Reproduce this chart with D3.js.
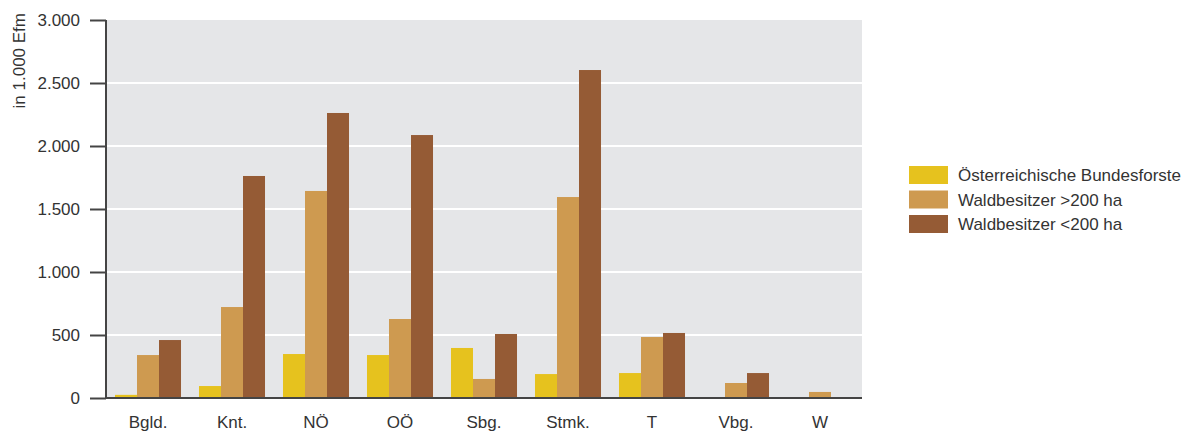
<!DOCTYPE html>
<html>
<head>
<meta charset="utf-8">
<script src="https://cdn.jsdelivr.net/npm/d3@7"></script>
<style>
  html, body { margin: 0; padding: 0; background: #fff; }
  svg { display: block; font-family: "Liberation Sans", Arial, Helvetica, sans-serif; }
</style>
</head>
<body>
<svg id="chart" width="1191" height="431"></svg>
<script>
// Bundesländer
const categories = ["Bgld.", "Knt.", "NÖ", "OÖ", "Sbg.", "Stmk.", "T", "Vbg.", "W"];
// Series (in 1.000 Efm)
const seriesNames = ["Österreichische Bundesforste", "Waldbesitzer >200 ha", "Waldbesitzer <200 ha"];
const bundesforste = [25, 95, 349, 341, 397, 190, 198, 0, 5];
const ueber200 = [341, 722, 1643, 627, 151, 1595, 484, 119, 48];
const unter200 = [460, 1762, 2262, 2087, 508, 2603, 516, 198, 3];
const yTicks = [0, 500, 1000, 1500, 2000, 2500, 3000];
const colors = ["#e6c21e", "#ce9a50", "#955b35"];

const seriesValues = [bundesforste, ueber200, unter200];
const rows = categories.map((c, i) => ({
  cat: c,
  vals: seriesValues.map((s, k) => ({ key: k, value: s[i] }))
}));

const FS = 17;
const svg = d3.select("#chart");
const margin = { left: 106, top: 20, right: 862, bottom: 398 };

const x = d3.scaleBand().domain(categories).range([margin.left, margin.right]).paddingInner(0.214).paddingOuter(0.107);
const xs = d3.scaleBand().domain([0, 1, 2]).range([0, x.bandwidth()]);
const y = d3.scaleLinear().domain([0, 3000]).range([margin.bottom, margin.top]);

// plot background
svg.append("rect")
  .attr("x", margin.left).attr("y", margin.top)
  .attr("width", margin.right - margin.left).attr("height", margin.bottom - margin.top)
  .attr("fill", "#e5e6e8");

// white gridlines
svg.append("g").selectAll("line").data(yTicks.filter(t => t > 0 && t < 3000)).join("line")
  .attr("x1", margin.left).attr("x2", margin.right)
  .attr("y1", d => y(d)).attr("y2", d => y(d))
  .attr("stroke", "#fff").attr("stroke-width", 2);

// bars
svg.append("g").selectAll("g").data(rows).join("g")
  .attr("transform", d => `translate(${x(d.cat)},0)`)
  .selectAll("rect").data(d => d.vals).join("rect")
  .attr("x", d => xs(d.key))
  .attr("width", xs.bandwidth())
  .attr("y", d => y(d.value))
  .attr("height", d => y(0) - y(d.value))
  .attr("fill", d => colors[d.key]);

// y axis
const yAxis = svg.append("g")
  .attr("transform", `translate(${margin.left},0)`)
  .call(d3.axisLeft(y).tickValues(yTicks).tickSize(16).tickPadding(10)
    .tickFormat(d => d3.format(",")(d).replace(/,/g, ".")));
yAxis.select(".domain").attr("stroke", "#444").attr("stroke-width", 2).attr("d", `M0,${margin.top}V${margin.bottom}`);
yAxis.selectAll(".tick line").attr("stroke", "#444").attr("stroke-width", 2);
yAxis.selectAll(".tick text").attr("fill", "#333").attr("font-size", FS).attr("font-family", null).attr("dy", "0.33em");

// x axis baseline
svg.append("line")
  .attr("x1", margin.left).attr("x2", margin.right)
  .attr("y1", margin.bottom).attr("y2", margin.bottom)
  .attr("stroke", "#444").attr("stroke-width", 2);

// category labels
svg.append("g").selectAll("text").data(categories).join("text")
  .attr("x", d => x(d) + x.bandwidth() / 2)
  .attr("y", 428)
  .attr("text-anchor", "middle")
  .attr("fill", "#333").attr("font-size", FS)
  .text(d => d);

// y axis title
svg.append("text")
  .attr("transform", "translate(25,13) rotate(-90)")
  .attr("text-anchor", "end")
  .attr("fill", "#333").attr("font-size", FS)
  .text("in 1.000 Efm");

// legend
const legend = svg.append("g").selectAll("g").data(seriesNames).join("g")
  .attr("transform", (d, i) => `translate(909,${166 + i * 24.5})`);
legend.append("rect").attr("width", 39).attr("height", 18).attr("fill", (d, i) => colors[i]);
legend.append("text").attr("x", 49).attr("y", 15)
  .attr("fill", "#333").attr("font-size", FS).text(d => d);
</script>
</body>
</html>
